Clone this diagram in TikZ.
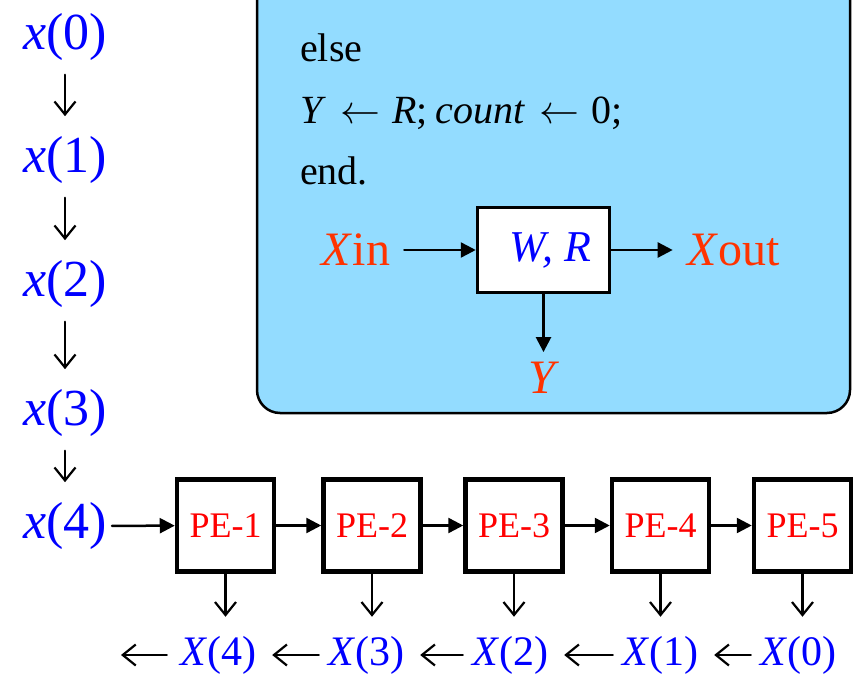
\RequirePackage{fix-cm}
\documentclass[tikz,border=0pt]{standalone}
\usepackage{fontspec}
\setmainfont{Liberation Serif}
\usetikzlibrary{arrows.meta}
\definecolor{panelblue}{RGB}{147,220,255}
\definecolor{sigred}{RGB}{255,51,0}
\definecolor{valblue}{RGB}{0,0,255}
\definecolor{pered}{RGB}{255,0,0}

\begin{document}
\begin{tikzpicture}[
  x=1pt,
  y=-1pt,
  line cap=round,
  line join=round,
  code/.style={anchor=base west, inner sep=0pt,
    font=\fontsize{40}{44}\selectfont},
  sig/.style={inner sep=0pt, text=sigred,
    font=\fontsize{48}{52}\selectfont},
  seqin/.style={inner sep=0pt, text=valblue,
    font=\fontsize{52}{56}\selectfont},
  seqout/.style={inner sep=0pt, text=valblue,
    font=\fontsize{42}{46}\selectfont},
  pebox/.style={draw, line width=4.5pt, line join=miter, fill=white,
    minimum width=97pt, minimum height=92pt, inner sep=0pt,
    text=pered, font=\fontsize{36}{40}\selectfont},
  feedarrow/.style={line width=2.5pt,
    -{Triangle[length=15pt,width=15pt]}},
  thinarrow/.style={line width=2.2pt,
    -{Straight Barb[length=13pt,width=21pt]}}
]
  \useasboundingbox (0,0) rectangle (857,676);
  \clip (0,0) rectangle (857,676);

  % Панель с описанием ячейки
  \draw[line width=2.5pt, fill=panelblue, rounded corners=23pt]
    (257,-40) rectangle (850,413);

  \node[code] (elseline) at (300,62) {else};
  \node[code] (assign) at (300,124)
    {\textit{Y}\hspace{.35em}$\leftarrow$\hspace{.3em}\textit{R};\hspace{.2em}\textit{count}\hspace{.35em}$\leftarrow$\hspace{.3em}0;};
  \node[code] (endline) at (300,185) {end.};

  % Ячейка W, R
  \node[draw, line width=3.5pt, line join=miter, fill=white,
    minimum width=132pt, minimum height=85pt, inner sep=0pt,
    text=valblue, font=\fontsize{44}{48}\selectfont]
    (cell) at (543.5,250) {\hspace{14pt}\textit{W, R}};

  \node[sig] (xin) at (356,250) {\textit{X}in};
  \node[sig] (xout) at (734,250) {\textit{X}out};
  \node[sig] (yout) at (543.5,378) {\textit{Y}};

  \draw[feedarrow, shorten <=14pt] (xin) -- (cell);
  \draw[feedarrow, shorten >=15pt] (cell) -- (xout);
  \draw[feedarrow, shorten >=10pt] (cell) -- (yout);

  % Входная последовательность
  \foreach \i/\yy in {0/37,1/160,2/284,3/413,4/526}
    \node[seqin] (x\i) at (65,\yy) {\textit{x}(\i)};

  \foreach \a/\b in {0/1,1/2,2/3,3/4}
    \draw[thinarrow, shorten <=14pt, shorten >=20pt] (x\a) -- (x\b);

  % Цепочка процессорных элементов
  \foreach \i/\xx in {1/225.5,2/372,3/514,4/660.5,5/802.5}
    \node[pebox] (pe\i) at (\xx,525.5) {PE-\i};

  \draw[feedarrow, shorten <=5pt] (x4) -- (pe1);
  \foreach \a/\b in {1/2,2/3,3/4,4/5}
    \draw[feedarrow] (pe\a) -- (pe\b);

  % Выходная последовательность
  \foreach \i/\xx in {0/798,1/660,2/510,3/366,4/218}
    \node[seqout] (X\i) at (\xx,655) {\textit{X}(\i)};

  \foreach \i/\j in {1/4,2/3,3/2,4/1,5/0}
    \draw[thinarrow, shorten >=19pt] (pe\i.south) -- (pe\i.south |- X\j.north);

  \foreach \a/\b in {0/1,1/2,2/3,3/4}
    \draw[thinarrow, shorten <=9pt, shorten >=16pt] (X\a) -- (X\b);

  \coordinate (Xend) at (121,655);
  \draw[thinarrow, shorten <=13pt] (X4) -- (Xend);
\end{tikzpicture}
\end{document}
